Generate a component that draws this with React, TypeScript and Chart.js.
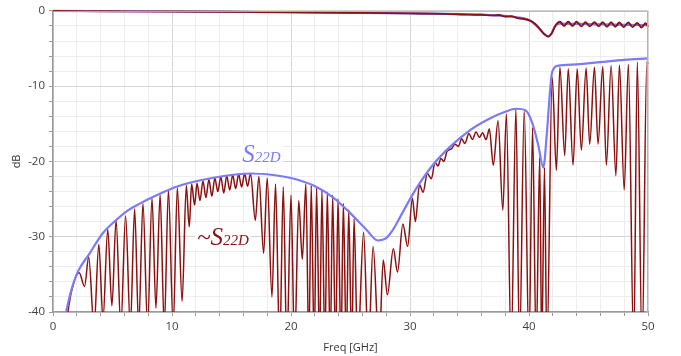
import React, { useEffect, useRef } from 'react';
import { Chart, registerables } from 'chart.js';

Chart.register(...registerables);

// S22D envelope (blue)
const envF = [1.1, 1.5, 2.1, 3.0, 4.2, 5.3, 6.3, 7.3, 8.3, 9.4, 10.5, 12.4, 14.5, 16.6, 18.5, 20.0, 21.9, 23.55, 25.0, 26.3, 27.3, 28.0, 28.6, 29.2, 30.0, 30.6, 31.9, 33.4, 35.0, 36.7, 38.0, 38.9, 39.7, 40.3, 40.8, 41.2, 41.5, 41.7, 41.9, 42.1, 42.4, 44.0, 46.0, 48.0, 50.0];
const envDB = [-40.0, -37.3, -34.6, -32.4, -29.5, -27.8, -26.5, -25.6, -24.8, -24.0, -23.3, -22.5, -21.9, -21.6, -21.8, -22.2, -23.2, -24.8, -26.9, -29.0, -30.5, -30.2, -29.0, -27.3, -25.0, -23.4, -20.5, -18.0, -15.9, -14.3, -13.4, -13.0, -13.2, -15.0, -18.0, -20.8, -16.3, -12.0, -8.5, -7.6, -7.3, -7.1, -6.8, -6.5, -6.3];

// ~S22D (dark red), peaks and troughs
const tildeF = [1.05, 1.55, 2.2, 2.65, 3.0, 3.45, 3.85, 4.2, 4.6, 4.95, 5.3, 5.7, 6.1, 6.5, 6.86, 7.2, 7.56, 7.95, 8.32, 8.65, 9.0, 9.35, 9.7, 10.1, 10.45, 10.85, 11.2, 11.45, 11.65, 11.9, 12.1, 12.35, 12.6, 12.85, 13.1, 13.35, 13.6, 13.85, 14.1, 14.35, 14.6, 14.85, 15.1, 15.35, 15.6, 15.85, 16.1, 16.35, 16.6, 17.0, 17.3, 17.7, 18.0, 18.4, 18.7, 19.05, 19.35, 19.65, 20.0, 20.3, 20.65, 20.95, 21.25, 21.5, 21.7, 21.95, 22.15, 22.4, 22.6, 22.85, 23.05, 23.3, 23.5, 23.75, 23.95, 24.2, 24.4, 24.65, 24.85, 25.1, 25.3, 25.6, 26.1, 26.5, 26.9, 27.4, 27.75, 28.1, 28.6, 28.95, 29.4, 29.8, 30.2, 30.45, 30.8, 31.1, 31.45, 31.8, 32.1, 32.35, 32.6, 32.85, 33.1, 33.5, 33.78, 34.06, 34.34, 34.6, 34.96, 35.24, 35.55, 35.83, 36.1, 36.39, 36.67, 37.0, 37.4, 37.8, 38.1, 38.5, 38.9, 39.2, 39.6, 40.0, 40.3, 40.6, 40.9, 41.07, 41.3, 41.5, 41.95, 42.3, 42.6, 43.0, 43.3, 43.7, 44.05, 44.4, 44.8, 45.1, 45.5, 45.8, 46.2, 46.5, 46.9, 47.3, 47.6, 48.0, 48.35, 48.8, 49.1, 49.5, 49.9, 50.0];
const tildeDB = [-42, -37.3, -34.8, -36.6, -32.7, -42, -31.0, -41, -29.0, -39.2, -27.8, -42, -27.2, -42, -26.3, -42, -25.6, -42, -24.9, -39.5, -24.4, -42, -23.8, -42, -23.5, -38.6, -23.2, -28.7, -23.0, -25.8, -22.9, -25.2, -22.6, -24.8, -22.4, -24.6, -22.2, -24.0, -22.0, -24.2, -21.9, -23.8, -21.8, -23.6, -21.7, -23.4, -21.6, -23.3, -21.6, -27.8, -22.0, -32.2, -22.2, -38, -23.0, -45, -23.4, -45, -24.5, -45, -25.2, -33, -23.0, -45, -23.2, -45, -23.5, -45, -23.8, -45, -24.1, -45, -24.5, -45, -25.0, -45, -25.6, -45, -26.4, -45, -27.6, -45, -29.4, -45, -31.3, -45, -33.1, -37.7, -31.6, -34.7, -28.3, -31.3, -24.9, -28.0, -23.1, -24.1, -21.6, -22.3, -20.1, -20.6, -19.6, -20.0, -18.7, -18.3, -17.7, -18.0, -17.0, -17.6, -16.3, -17.1, -16.1, -16.8, -16.2, -17.1, -15.7, -20.5, -14.6, -26.5, -13.7, -45, -13.0, -45, -13.2, -45, -15.5, -45, -19.4, -45, -20.8, -45, -8.8, -21.2, -7.5, -19.2, -7.7, -20.5, -7.7, -18.5, -7.6, -17.7, -7.5, -17.7, -7.4, -20.5, -7.3, -21.9, -7.2, -23.8, -7.1, -45, -6.8, -45, -6.8, -7.0];

// Upper trace (dark red) and its smooth reference (blue)
const topF = [0, 5, 10, 15, 20, 25, 30, 33, 35, 36, 37, 37.5, 38, 38.5, 39, 39.5, 40.1, 40.5, 40.9, 41.3, 41.6, 41.9, 42.2, 42.6, 42.95, 43.3, 43.65, 44.0, 44.4, 44.75, 45.1, 45.5, 45.85, 46.2, 46.55, 46.9, 47.25, 47.6, 47.95, 48.35, 48.7, 49.1, 49.45, 49.8, 50.0];
const topDB = [-0.02, -0.05, -0.08, -0.12, -0.18, -0.25, -0.33, -0.4, -0.5, -0.52, -0.6, -0.55, -0.75, -0.7, -0.95, -1.05, -1.3, -1.7, -2.4, -3.1, -3.4, -3.0, -2.0, -1.45, -2.0, -1.45, -2.0, -1.45, -2.05, -1.5, -2.05, -1.5, -2.05, -1.5, -2.1, -1.5, -2.1, -1.55, -2.15, -1.55, -2.15, -1.6, -2.2, -1.65, -2.1];
const topEnvF = [0, 10, 20, 30, 35.9, 38.7, 40.1, 40.9, 41.3, 41.6, 41.9, 42.2, 42.6, 45.0, 50.0];
const topEnvDB = [0, -0.08, -0.18, -0.33, -0.5, -0.8, -1.3, -2.4, -3.1, -3.4, -3.0, -2.0, -1.7, -1.75, -1.9];

const xMajor = [0, 10, 20, 30, 40, 50];
const yMajor = [0, -10, -20, -30, -40];

const BLUE = '#7b7bf7';
const RED = '#8b1010';

const pts = (xs: number[], ys: number[]) => xs.map((x, i) => ({ x, y: ys[i] }));

const labelDefs = [
  { prefix: '', f: 15.9, db: -20.1, color: BLUE },
  { prefix: '~', f: 12.1, db: -31.1, color: RED },
];

function labelBox(ctx: CanvasRenderingContext2D, prefix: string) {
  ctx.font = 'italic 25px "Liberation Serif"';
  const w1 = ctx.measureText(prefix + 'S').width;
  ctx.font = 'italic 15px "Liberation Serif"';
  const w2 = ctx.measureText('22D').width;
  return { w1, w2 };
}

const labelPlugin = {
  id: 'curveLabels',
  beforeDatasetsDraw(chart: any) {
    const { ctx, scales } = chart;
    ctx.save();
    for (const l of labelDefs) {
      const px = scales.x.getPixelForValue(l.f);
      const py = scales.y.getPixelForValue(l.db);
      const { w1, w2 } = labelBox(ctx, l.prefix);
      ctx.fillStyle = '#ffffff';
      ctx.fillRect(px - 2, py - 20, w1 + w2 + 4, 25);
    }
    ctx.restore();
  },
  afterDatasetsDraw(chart: any) {
    const { ctx, scales, chartArea } = chart;
    ctx.save();
    ctx.strokeStyle = '#b4b4b4';
    ctx.lineWidth = 1;
    ctx.beginPath();
    ctx.moveTo(chartArea.left, chartArea.top + 0.5);
    ctx.lineTo(chartArea.right - 0.5, chartArea.top + 0.5);
    ctx.lineTo(chartArea.right - 0.5, chartArea.bottom);
    ctx.stroke();
    for (const l of labelDefs) {
      const px = scales.x.getPixelForValue(l.f);
      const py = scales.y.getPixelForValue(l.db);
      const { w1 } = labelBox(ctx, l.prefix);
      ctx.fillStyle = l.color;
      ctx.textBaseline = 'alphabetic';
      ctx.textAlign = 'left';
      ctx.font = 'italic 25px "Liberation Serif"';
      ctx.fillText(l.prefix + 'S', px, py);
      ctx.font = 'italic 15px "Liberation Serif"';
      ctx.fillText('22D', px + w1, py);
    }
    ctx.restore();
  },
};

export default function App() {
  const ref = useRef<HTMLCanvasElement | null>(null);
  useEffect(() => {
    if (!ref.current) return;
    const clip = { left: 1, top: 4, right: 2, bottom: 0 };
    const common = { pointRadius: 0, cubicInterpolationMode: 'monotone' as const, fill: false, clip };
    const gridColor = (c: any) => (c.tick && Math.abs(c.tick.value % 10) < 1e-9 ? '#d6d6d6' : '#ededed');
    const chart = new Chart(ref.current, {
      type: 'line',
      data: {
        datasets: [
          { ...common, label: 'S22D', data: pts(envF, envDB), borderColor: BLUE, borderWidth: 2.2 },
          { ...common, label: '~S22D', data: pts(tildeF, tildeDB), borderColor: RED, borderWidth: 1.5 },
          { ...common, label: 'top', data: pts(topF, topDB), borderColor: RED, borderWidth: 1.9 },
          { ...common, label: 'topEnv', data: pts(topEnvF, topEnvDB), borderColor: BLUE, borderWidth: 2.2 },
        ],
      },
      options: {
        animation: false,
        responsive: false,
        events: [],
        layout: { padding: { left: 0, right: 33, top: 10, bottom: 0 } },
        plugins: { legend: { display: false }, tooltip: { enabled: false } },
        scales: {
          x: {
            type: 'linear',
            min: 0,
            max: 50,
            afterFit: (s: any) => { s.height = 44; },
            ticks: {
              stepSize: 2,
              autoSkip: false,
              maxRotation: 0,
              padding: 4,
              color: '#404040',
              font: { family: '"Open Sans"', size: 11.5 },
              callback: (v: any) => (xMajor.includes(Number(v)) ? String(v) : ''),
            },
            grid: { color: gridColor, tickColor: '#9a9a9a', tickLength: 4 },
            border: { color: '#9a9a9a', width: 1.5 },
            title: {
              display: true,
              text: 'Freq [GHz]',
              color: '#333333',
              font: { family: '"Open Sans"', size: 11 },
              padding: { top: 0, bottom: 2 },
            },
          },
          y: {
            type: 'linear',
            min: -40,
            max: 0,
            afterFit: (s: any) => { s.width = 53; },
            ticks: {
              stepSize: 2,
              autoSkip: false,
              padding: 4,
              color: '#404040',
              font: { family: '"Open Sans"', size: 11.5 },
              callback: (v: any) => (yMajor.includes(Number(v)) ? String(v) : ''),
            },
            grid: { color: gridColor, tickColor: '#9a9a9a', tickLength: 4 },
            border: { color: '#9a9a9a', width: 1.5 },
            title: {
              display: true,
              text: 'dB',
              color: '#333333',
              font: { family: '"Open Sans"', size: 11 },
              padding: { top: 10, bottom: 0 },
            },
          },
        },
      },
      plugins: [labelPlugin],
    });
    return () => chart.destroy();
  }, []);
  return (
    <div style={{ position: 'fixed', left: 0, top: 0, width: 681, height: 356, background: '#ffffff' }}>
      <canvas ref={ref} width={681} height={356} style={{ display: 'block' }} />
    </div>
  );
}
